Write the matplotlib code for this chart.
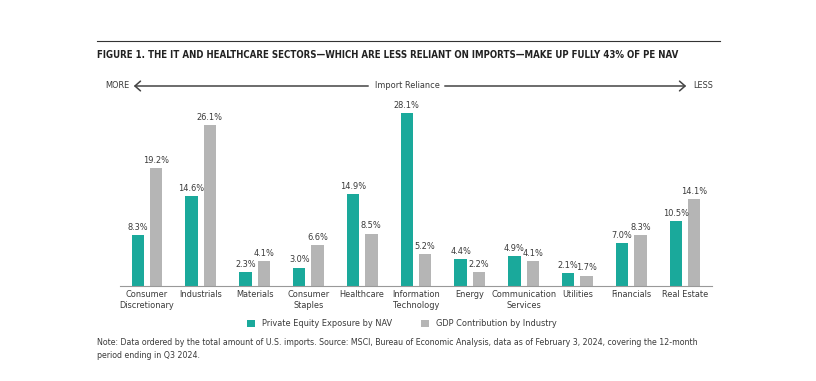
import matplotlib.pyplot as plt
from matplotlib.patches import FancyArrowPatch
import numpy as np

plt.rcParams['font.family'] = ['DejaVu Sans']
plt.rcParams['font.stretch'] = 'condensed'

sectors = ['Consumer\nDiscretionary', 'Industrials', 'Materials', 'Consumer\nStaples',
           'Healthcare', 'Information\nTechnology', 'Energy', 'Communication\nServices',
           'Utilities', 'Financials', 'Real Estate']
pe_nav = [8.3, 14.6, 2.3, 3.0, 14.9, 28.1, 4.4, 4.9, 2.1, 7.0, 10.5]
gdp = [19.2, 26.1, 4.1, 6.6, 8.5, 5.2, 2.2, 4.1, 1.7, 8.3, 14.1]

teal = '#1aa99b'
grey = '#b5b5b5'
txt = '#3a3a3a'
fs = 6.6

fig = plt.figure(figsize=(8.16, 3.81), dpi=100)
ax = fig.add_axes([120 / 816, 95 / 381, 592 / 816, 185 / 381])

x = np.arange(len(sectors))
w = 0.23
ax.bar(x - 0.17, pe_nav, w, color=teal, label='Private Equity Exposure by NAV')
ax.bar(x + 0.17, gdp, w, color=grey, label='GDP Contribution by Industry')

for i in range(len(sectors)):
    ax.text(x[i] - 0.17, pe_nav[i] + 0.5, f'{pe_nav[i]:.1f}%', ha='center', va='bottom',
            fontsize=fs, color=txt)
    ax.text(x[i] + 0.17, gdp[i] + 0.5, f'{gdp[i]:.1f}%', ha='center', va='bottom',
            fontsize=fs, color=txt)

ax.set_xlim(-0.5, 10.5)
ax.set_ylim(0, 30)
ax.set_xticks(x)
ax.set_xticklabels(sectors, fontsize=fs, color=txt, linespacing=1.3)
ax.tick_params(axis='x', length=0, pad=3)
ax.set_yticks([])
for s in ['top', 'right', 'left']:
    ax.spines[s].set_visible(False)
ax.spines['bottom'].set_color('#999999')
ax.spines['bottom'].set_linewidth(0.8)

# top rule and title
fig.add_artist(plt.Line2D([97 / 816, 720 / 816], [1 - 41 / 381, 1 - 41 / 381],
                          color='#333333', lw=0.8))
fig.text(97 / 816, 1 - 55 / 381,
         'FIGURE 1. THE IT AND HEALTHCARE SECTORS\u2014WHICH ARE LESS RELIANT ON IMPORTS\u2014MAKE UP FULLY 43% OF PE NAV',
         fontsize=6.95, fontweight='bold', color='#222222', va='center', ha='left')

# import reliance arrow
ya = 1 - 86 / 381
fig.text(105 / 816, ya, 'MORE', fontsize=fs, color=txt, va='center', ha='left')
fig.text(407 / 816, ya, 'Import Reliance', fontsize=fs, color=txt, va='center', ha='center')
fig.text(693 / 816, ya, 'LESS', fontsize=fs, color=txt, va='center', ha='left')
fig.add_artist(FancyArrowPatch((371 / 816, ya), (131 / 816, ya), transform=fig.transFigure,
                               arrowstyle='->,head_length=4,head_width=3.5', color='#444444',
                               lw=1.1, mutation_scale=1))
fig.add_artist(FancyArrowPatch((442 / 816, ya), (689 / 816, ya), transform=fig.transFigure,
                               arrowstyle='->,head_length=4,head_width=3.5', color='#444444',
                               lw=1.1, mutation_scale=1))

fig.legend(loc='center', bbox_to_anchor=(402 / 816, 1 - 324 / 381), ncol=2, frameon=False,
           fontsize=fs, handlelength=0.85, handleheight=0.85, columnspacing=3.2,
           handletextpad=0.8, labelcolor=txt)

fig.text(97 / 816, 1 - 349 / 381,
         'Note: Data ordered by the total amount of U.S. imports. Source: MSCI, Bureau of Economic Analysis, data as of February 3, 2024, covering the 12-month\nperiod ending in Q3 2024.',
         fontsize=6.3, color=txt, va='center', ha='left', linespacing=1.5)

fig.savefig('out.png', dpi=100)
